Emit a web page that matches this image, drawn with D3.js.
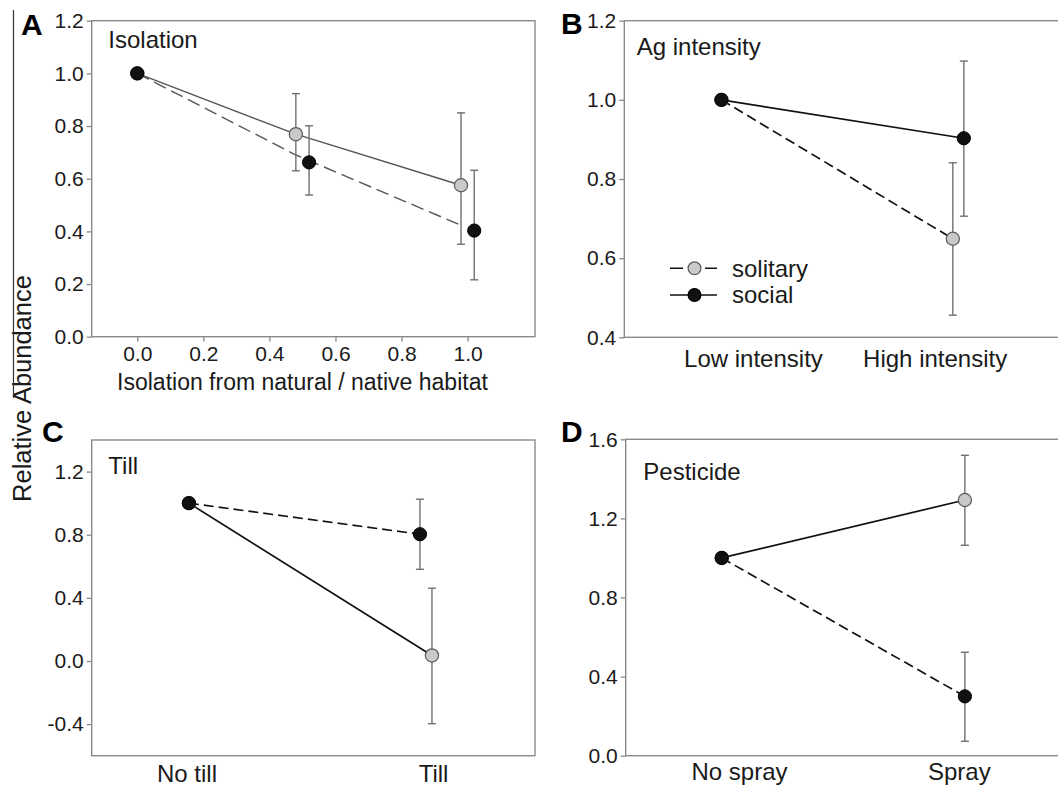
<!DOCTYPE html>
<html>
<head>
<meta charset="utf-8">
<script src="https://cdn.jsdelivr.net/npm/d3@7"></script>
<style>
  html, body { margin: 0; padding: 0; background: #fff; }
  svg { display: block; }
</style>
</head>
<body>
<script>
// ---------------- DATA ----------------
// Panel A: Isolation (numeric x)
const isoTicksX = [0.0, 0.2, 0.4, 0.6, 0.8, 1.0];
const isoTicksY = [0.0, 0.2, 0.4, 0.6, 0.8, 1.0, 1.2];
const isoSolitaryX  = [0, 0.48, 0.98];
const isoSolitaryY  = [1.0, 0.769, 0.575];
const isoSolitaryLo = [null, 0.630, 0.351];
const isoSolitaryHi = [null, 0.923, 0.850];
const isoSocialX  = [0, 0.52, 1.02];
const isoSocialY  = [1.0, 0.662, 0.403];
const isoSocialLo = [null, 0.538, 0.216];
const isoSocialHi = [null, 0.801, 0.632];
const isoSocialLineX = [0, 0.48, 0.98];
const isoSocialLineY = [1.0, 0.690, 0.423];

// Panel B: Ag intensity
const agCategories = ["Low intensity", "High intensity"];
const agTicksY = [0.4, 0.6, 0.8, 1.0, 1.2];
const agSolitary   = [1.0, 0.649];
const agSolitaryLo = [null, 0.456];
const agSolitaryHi = [null, 0.841];
const agSocial   = [1.0, 0.903];
const agSocialLo = [null, 0.706];
const agSocialHi = [null, 1.098];

// Panel C: Till
const tillCategories = ["No till", "Till"];
const tillTicksY = [-0.4, 0.0, 0.4, 0.8, 1.2];
const tillSolitary   = [1.0, 0.035];
const tillSolitaryLo = [null, -0.397];
const tillSolitaryHi = [null, 0.461];
const tillSocial   = [1.0, 0.803];
const tillSocialLo = [null, 0.581];
const tillSocialHi = [null, 1.025];

// Panel D: Pesticide
const pestCategories = ["No spray", "Spray"];
const pestTicksY = [0.0, 0.4, 0.8, 1.2, 1.6];
const pestSolitary   = [1.0, 1.293];
const pestSolitaryLo = [null, 1.064];
const pestSolitaryHi = [null, 1.519];
const pestSocial   = [1.0, 0.300];
const pestSocialLo = [null, 0.073];
const pestSocialHi = [null, 0.523];

const legendLabels = ["solitary", "social"];
const yTitle = "Relative Abundance";

// ---------------- STYLE ----------------
const FONT = "'Liberation Sans', Arial, Helvetica, sans-serif";
const TXT = "#1a1a1a";
const BOX = "#8a8a8a";
const ERR = "#707070";
const GRAYFILL = "#c9c9c9";
const GRAYSTROKE = "#5a5a5a";
const BLACK = "#111";

const svg = d3.select("body").append("svg")
  .attr("width", 1058).attr("height", 788)
  .style("font-family", FONT);
svg.append("rect").attr("width", 1058).attr("height", 788).attr("fill", "#fff");

function zip(xs, ys, lo, hi, dx) {
  return ys.map((v, i) => ({ x: xs[i], y: v, lo: lo[i], hi: hi[i], dx: dx ? dx[i] : 0 }));
}

function drawPanel(cfg) {
  const g = svg.append("g");
  const L = cfg.box.left, T = cfg.box.top, W = cfg.box.width, H = cfg.box.height;
  const x = d3.scaleLinear().domain(cfg.xDomain).range([L, L + W]);
  const y = d3.scaleLinear().domain(cfg.yDomain).range([T + H, T]);

  // box
  g.append("rect").attr("x", L).attr("y", T).attr("width", W).attr("height", H)
    .attr("fill", "none").attr("stroke", BOX).attr("stroke-width", 1.4);

  // y axis
  const ya = g.append("g").attr("transform", `translate(${L},0)`)
    .call(d3.axisLeft(y).tickValues(cfg.yTicks).tickSize(5).tickPadding(3)
      .tickFormat(d => d.toFixed(1)));
  ya.select(".domain").remove();
  ya.selectAll(".tick line").attr("stroke", BOX).attr("stroke-width", 1.3);
  ya.selectAll(".tick text").attr("fill", TXT).style("font-size", "21px").style("font-family", FONT);

  // x axis
  let xa;
  if (cfg.categories) {
    xa = g.append("g").attr("transform", `translate(0,${T + H})`)
      .call(d3.axisBottom(x).tickValues(cfg.labelPos).tickSize(0).tickPadding(cfg.xPad)
        .tickFormat((d, i) => cfg.categories[i]));
    xa.selectAll(".tick text").style("font-size", "24px");
  } else {
    xa = g.append("g").attr("transform", `translate(0,${T + H})`)
      .call(d3.axisBottom(x).tickValues(cfg.xTicks).tickSize(5).tickPadding(4)
        .tickFormat(d => d.toFixed(1)));
    xa.selectAll(".tick line").attr("stroke", BOX).attr("stroke-width", 1.3);
    xa.selectAll(".tick text").style("font-size", "21px");
  }
  xa.select(".domain").remove();
  xa.selectAll(".tick text").attr("fill", TXT).style("font-family", FONT);

  if (cfg.xTitle) {
    g.append("text").attr("x", x(cfg.xTitlePos)).attr("y", cfg.xTitleY)
      .attr("text-anchor", "middle").attr("fill", TXT).style("font-size", "23px")
      .text(cfg.xTitle);
  }

  // inner title
  g.append("text").attr("x", cfg.title.x).attr("y", cfg.title.y)
    .attr("fill", TXT).style("font-size", "24px").text(cfg.title.text);

  // panel letter
  g.append("text").attr("x", cfg.letter.x).attr("y", cfg.letter.y)
    .attr("fill", "#000").style("font-size", "30px").style("font-weight", "bold")
    .text(cfg.letter.text);

  const line = d3.line().x(d => x(d.x) + d.dx).y(d => y(d.y));

  // connecting lines
  cfg.lines.forEach(l => {
    g.append("path").datum(l.pts).attr("d", line)
      .attr("fill", "none").attr("stroke", l.color).attr("stroke-width", l.width)
      .attr("stroke-dasharray", l.dash || null);
  });

  // error bars
  const cap = 4;
  [cfg.solitary, cfg.social].forEach(ser => {
    ser.filter(d => d.lo != null).forEach(d => {
      const cx = x(d.x) + d.dx;
      g.append("line").attr("x1", cx).attr("x2", cx).attr("y1", y(d.lo)).attr("y2", y(d.hi))
        .attr("stroke", ERR).attr("stroke-width", 1.4);
      [d.lo, d.hi].forEach(v => {
        g.append("line").attr("x1", cx - cap).attr("x2", cx + cap).attr("y1", y(v)).attr("y2", y(v))
          .attr("stroke", ERR).attr("stroke-width", 1.4);
      });
    });
  });

  // points
  g.selectAll(".sol").data(cfg.solitary).enter().append("circle")
    .attr("cx", d => x(d.x) + d.dx).attr("cy", d => y(d.y)).attr("r", 6.6)
    .attr("fill", GRAYFILL).attr("stroke", GRAYSTROKE).attr("stroke-width", 1.2);
  g.selectAll(".soc").data(cfg.social).enter().append("circle")
    .attr("cx", d => x(d.x) + d.dx).attr("cy", d => y(d.y)).attr("r", 6.6)
    .attr("fill", BLACK).attr("stroke", "#000").attr("stroke-width", 1);

  return { x, y, g };
}

const idx = [0, 1];

// Panel A
drawPanel({
  box: { left: 91.7, top: 20.7, width: 443.3, height: 316 },
  xDomain: [-0.138, 1.204], yDomain: [0, 1.2],
  xTicks: isoTicksX, yTicks: isoTicksY,
  xTitle: "Isolation from natural / native habitat", xTitlePos: 0.5, xTitleY: 389.5,
  title: { text: "Isolation", x: 108.3, y: 48.3 },
  letter: { text: "A", x: 21, y: 35 },
  solitary: zip(isoSolitaryX, isoSolitaryY, isoSolitaryLo, isoSolitaryHi),
  social: zip(isoSocialX, isoSocialY, isoSocialLo, isoSocialHi),
  lines: [
    { pts: zip(isoSolitaryX, isoSolitaryY, isoSolitaryLo, isoSolitaryHi), color: "#555", width: 1.4 },
    { pts: zip(isoSocialLineX, isoSocialLineY, [null, null, null], [null, null, null]), color: "#555", width: 1.4, dash: "13,6" }
  ]
});

// Panel B
const bSol = zip(idx, agSolitary, agSolitaryLo, agSolitaryHi, [0, -5.5]);
const bSoc = zip(idx, agSocial, agSocialLo, agSocialHi, [0, 5.5]);
const B = drawPanel({
  box: { left: 624.3, top: 20.7, width: 443, height: 316.6 },
  xDomain: [-0.41, 1.46], yDomain: [0.4, 1.2], yTicks: agTicksY,
  categories: agCategories, labelPos: [0.133, 0.90], xPad: 13,
  title: { text: "Ag intensity", x: 636.7, y: 55 },
  letter: { text: "B", x: 561, y: 33.5 },
  solitary: bSol, social: bSoc,
  lines: [
    { pts: bSol, color: BLACK, width: 1.7, dash: "10,5" },
    { pts: bSoc, color: BLACK, width: 1.7 }
  ]
});

// Legend (panel B)
const lg = B.g.append("g");
const legendRows = [
  { label: legendLabels[0], y: 268.3, fill: GRAYFILL, stroke: GRAYSTROKE, dash: "13,22,12" },
  { label: legendLabels[1], y: 295, fill: BLACK, stroke: "#000", dash: null }
];
legendRows.forEach(r => {
  lg.append("line").attr("x1", 670).attr("x2", 717).attr("y1", r.y).attr("y2", r.y)
    .attr("stroke", BLACK).attr("stroke-width", 1.6).attr("stroke-dasharray", r.dash);
  lg.append("circle").attr("cx", 694.5).attr("cy", r.y).attr("r", 6.4)
    .attr("fill", r.fill).attr("stroke", r.stroke).attr("stroke-width", 1.2);
  lg.append("text").attr("x", 732).attr("y", r.y).attr("dy", "0.35em")
    .attr("fill", TXT).style("font-size", "24px").text(r.label);
});

// Panel C
const cSol = zip(idx, tillSolitary, tillSolitaryLo, tillSolitaryHi, [0, 6]);
const cSoc = zip(idx, tillSocial, tillSocialLo, tillSocialHi, [0, -6]);
drawPanel({
  box: { left: 91.7, top: 440, width: 443.3, height: 315.7 },
  xDomain: [-0.41, 1.46], yDomain: [-0.6, 1.4], yTicks: tillTicksY,
  categories: tillCategories, labelPos: [-0.01, 1.03], xPad: 9,
  title: { text: "Till", x: 108.3, y: 474.3 },
  letter: { text: "C", x: 42, y: 441.7 },
  solitary: cSol, social: cSoc,
  lines: [
    { pts: cSoc, color: BLACK, width: 1.7, dash: "10,5" },
    { pts: cSol, color: BLACK, width: 1.7 }
  ]
});

// Panel D
const dSol = zip(idx, pestSolitary, pestSolitaryLo, pestSolitaryHi);
const dSoc = zip(idx, pestSocial, pestSocialLo, pestSocialHi);
drawPanel({
  box: { left: 625.7, top: 439.3, width: 443, height: 316.4 },
  xDomain: [-0.395, 1.427], yDomain: [0, 1.6], yTicks: pestTicksY,
  categories: pestCategories, labelPos: [0.071, 0.975], xPad: 7,
  title: { text: "Pesticide", x: 643.3, y: 480 },
  letter: { text: "D", x: 561, y: 441.7 },
  solitary: dSol, social: dSoc,
  lines: [
    { pts: dSoc, color: BLACK, width: 1.7, dash: "10,5" },
    { pts: dSol, color: BLACK, width: 1.7 }
  ]
});

// Shared y title
svg.append("text").attr("transform", "translate(31,388.5) rotate(-90)")
  .attr("text-anchor", "middle").attr("fill", TXT).style("font-size", "25.5px").text(yTitle);

// left scan edge line
svg.append("line").attr("x1", 13.5).attr("x2", 13.5).attr("y1", 10).attr("y2", 398)
  .attr("stroke", "#333").attr("stroke-width", 1.2);
</script>
</body>
</html>
